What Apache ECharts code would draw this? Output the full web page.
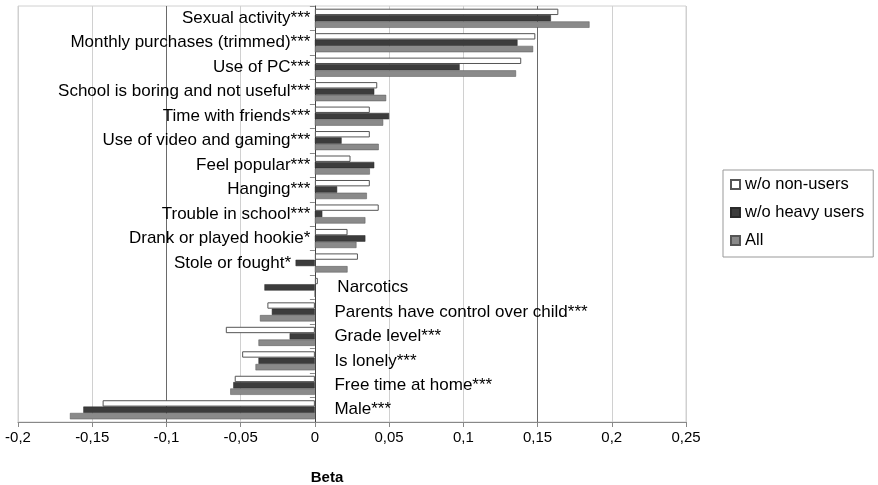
<!DOCTYPE html>
<html>
<head>
<meta charset="utf-8">
<script src="https://cdn.jsdelivr.net/npm/echarts@6/dist/echarts.min.js"></script>
<style>html,body{margin:0;padding:0;background:#fff}#c{width:878px;height:485px}</style>
</head>
<body>
<div id="c"></div>
<script>
const categories = [
  'Sexual activity***', 'Monthly purchases (trimmed)***', 'Use of PC***',
  'School is boring and not useful***', 'Time with friends***', 'Use of video and gaming***',
  'Feel popular***', 'Hanging***', 'Trouble in school***', 'Drank or played hookie*',
  'Stole or fought*', 'Narcotics', 'Parents have control over child***', 'Grade level***',
  'Is lonely***', 'Free time at home***', 'Male***'
];
const withoutNonUsers = [0.164, 0.1485, 0.139, 0.042, 0.037, 0.037, 0.024, 0.037, 0.043, 0.022, 0.029, 0.002, -0.032, -0.060, -0.049, -0.054, -0.143];
const withoutHeavyUsers = [0.159, 0.1365, 0.0975, 0.040, 0.050, 0.018, 0.040, 0.015, 0.005, 0.034, -0.013, -0.034, -0.029, -0.017, -0.038, -0.055, -0.156];
const allUsers = [0.185, 0.147, 0.1355, 0.048, 0.046, 0.043, 0.037, 0.035, 0.034, 0.028, 0.022, 0.000, -0.037, -0.038, -0.040, -0.057, -0.165];
const seriesNames = ['w/o non-users', 'w/o heavy users', 'All'];
const xTicks = [-0.2, -0.15, -0.1, -0.05, 0, 0.05, 0.1, 0.15, 0.2, 0.25];

const FONT = "'Liberation Sans', Arial, sans-serif";
const negativeSide = categories.map((c, i) => withoutNonUsers[i] + withoutHeavyUsers[i] + allUsers[i] < 0);
// label anchor: just beyond any bar that crosses to the label's side of the zero axis
const labelAnchor = categories.map((c, i) => {
  const vals = [withoutNonUsers[i], withoutHeavyUsers[i], allUsers[i]];
  return negativeSide[i] ? Math.max(0, ...vals) : Math.min(0, ...vals);
});

const chart = echarts.init(document.getElementById('c'));
const gridColors = xTicks.map(v => (Math.abs(v + 0.1) < 1e-9 || Math.abs(v - 0.15) < 1e-9) ? '#6a6a6a' : '#d0d0d0');

chart.setOption({
  animation: false,
  textStyle: { fontFamily: FONT },
  grid: { left: 18, right: 192, top: 6, bottom: 63, show: true, borderColor: '#d0d0d0', borderWidth: 1,
          containLabel: false, outerBoundsMode: 'none' },
  legend: {
    orient: 'vertical', left: 723, top: 170,
    data: seriesNames, icon: 'rect',
    itemWidth: 9, itemHeight: 9, itemGap: 11,
    padding: [6, 9, 8, 7],
    borderColor: '#999', borderWidth: 1, backgroundColor: '#fff',
    textStyle: { fontSize: 16.5, color: '#000', fontFamily: FONT }
  },
  xAxis: {
    type: 'value', min: -0.2, max: 0.25, interval: 0.05,
    axisLine: { show: true, onZero: false, lineStyle: { color: '#888' } },
    axisTick: { show: true, length: 5, lineStyle: { color: '#888' } },
    axisLabel: { fontSize: 15, color: '#000', margin: 8, formatter: v => String(+v.toFixed(2)).replace('.', ',') },
    splitLine: { show: true, lineStyle: { color: gridColors, width: 1 } },
    name: 'Beta', nameLocation: 'middle', nameGap: 48,
    nameTextStyle: { fontSize: 15, fontWeight: 'bold', color: '#000', padding: [0, 50, 0, 0] }
  },
  yAxis: {
    type: 'category', data: categories, inverse: true,
    axisLine: { show: true, onZero: true, onZeroAxisIndex: 0, lineStyle: { color: '#444' } },
    axisTick: { show: true, length: 5, lineStyle: { color: '#888' } },
    axisLabel: { show: false }
  },
  series: [
    { name: seriesNames[0], type: 'bar', data: withoutNonUsers, barGap: '0%', barCategoryGap: '22%',
      itemStyle: { color: '#ffffff', borderColor: '#555', borderWidth: 1 } },
    { name: seriesNames[1], type: 'bar', data: withoutHeavyUsers, barGap: '0%', barCategoryGap: '22%',
      itemStyle: { color: '#3c3c3c', borderColor: '#2a2a2a', borderWidth: 0.5 } },
    { name: seriesNames[2], type: 'bar', data: allUsers, barGap: '0%', barCategoryGap: '22%',
      itemStyle: { color: '#8a8a8a', borderColor: '#555', borderWidth: 0.5 } },
    { name: 'labels', type: 'scatter', silent: true, symbolSize: 1, z: 5,
      itemStyle: { color: 'rgba(0,0,0,0)' },
      data: categories.map((c, i) => ({
        value: [labelAnchor[i], c],
        label: { position: negativeSide[i] ? 'right' : 'left', distance: negativeSide[i] ? 19 : 4 }
      })),
      label: { show: true, fontSize: 17, color: '#000', opacity: 1, textBorderWidth: 0, fontFamily: FONT,
               formatter: p => categories[p.dataIndex] } }
  ]
});
</script>
</body>
</html>
